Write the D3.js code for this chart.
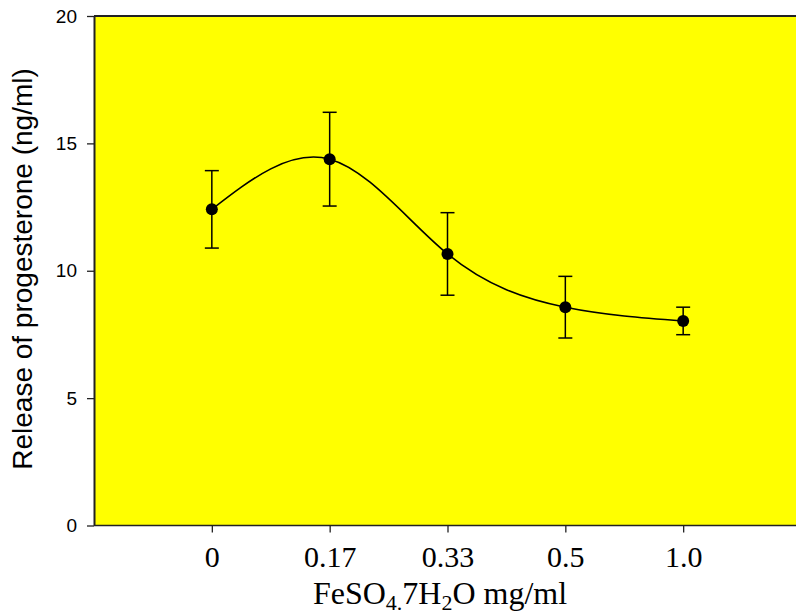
<!DOCTYPE html>
<html>
<head>
  <meta charset="utf-8" />
  <script src="https://d3js.org/d3.v7.min.js"></script>
  <style>
    body { margin: 0; padding: 0; background: #ffffff; }
    .y-tick text { font-family: Arial, "Liberation Sans", sans-serif; font-size: 19px; fill: #000; }
    .x-tick text { font-family: "Times New Roman", "Liberation Serif", serif; font-size: 30px; fill: #000; }
  </style>
</head>
<body>
  <svg id="chart" width="796" height="614"></svg>
  <script>
    // data
    const doses = ["0", "0.17", "0.33", "0.5", "1.0"];
    const means = [12.41, 14.38, 10.66, 8.57, 8.03];
    const errors = [1.52, 1.84, 1.62, 1.21, 0.54];
    const yTicks = [0, 5, 10, 15, 20];

    const svg = d3.select("#chart");
    const m = { left: 94, right: 801, top: 16, bottom: 525.5 };

    const x = d3.scaleLinear().domain([-1, 5]).range([m.left, m.right]);
    const y = d3.scaleLinear().domain([0, 20]).range([m.bottom, m.top]);

    // yellow plot area
    svg.append("rect")
      .attr("x", m.left).attr("y", m.top)
      .attr("width", 796 - m.left).attr("height", m.bottom - m.top)
      .attr("fill", "#ffff00");

    // top frame line
    svg.append("line")
      .attr("x1", m.left).attr("x2", 796)
      .attr("y1", m.top).attr("y2", m.top)
      .attr("stroke", "#222").attr("stroke-width", 2);

    // axes
    const yAxis = svg.append("g")
      .attr("class", "y-tick")
      .attr("transform", `translate(${m.left},0)`)
      .call(d3.axisLeft(y).tickValues(yTicks).tickSize(7).tickSizeOuter(0).tickPadding(10));
    yAxis.select(".domain").attr("stroke", "#222").attr("stroke-width", 2);
    yAxis.selectAll(".tick line").attr("stroke", "#222").attr("stroke-width", 1.3);

    const xAxis = svg.append("g")
      .attr("class", "x-tick")
      .attr("transform", `translate(0,${m.bottom})`)
      .call(d3.axisBottom(x).tickValues(d3.range(doses.length))
        .tickFormat(i => doses[i]).tickSize(7).tickSizeOuter(0).tickPadding(13));
    xAxis.select(".domain").attr("d", `M${m.left},0H796`).attr("stroke", "#222").attr("stroke-width", 1.5);
    xAxis.selectAll(".tick line").attr("stroke", "#222").attr("stroke-width", 1.3);

    // fitted curve
    const pts = means.map((v, i) => [x(i), y(v)]);
    svg.append("path")
      .attr("d", d3.line().curve(d3.curveNatural)(pts))
      .attr("fill", "none")
      .attr("stroke", "#000")
      .attr("stroke-width", 1.6);

    // error bars
    const eb = svg.append("g").attr("stroke", "#000").attr("stroke-width", 1.5);
    means.forEach((v, i) => {
      const cx = x(i);
      eb.append("line").attr("x1", cx).attr("x2", cx).attr("y1", y(v - errors[i])).attr("y2", y(v + errors[i]));
      eb.append("line").attr("x1", cx - 7).attr("x2", cx + 7).attr("y1", y(v + errors[i])).attr("y2", y(v + errors[i]));
      eb.append("line").attr("x1", cx - 7).attr("x2", cx + 7).attr("y1", y(v - errors[i])).attr("y2", y(v - errors[i]));
    });

    // points
    svg.append("g").selectAll("circle")
      .data(means)
      .enter()
      .append("circle")
      .attr("cx", (d, i) => x(i))
      .attr("cy", d => y(d))
      .attr("r", 6)
      .attr("fill", "#000");

    // axis titles
    svg.append("text")
      .attr("transform", "translate(32,269) rotate(-90)")
      .attr("text-anchor", "middle")
      .style("font-family", "Arial, 'Liberation Sans', sans-serif")
      .style("font-size", "28px")
      .text("Release of progesterone (ng/ml)");

    const xt = svg.append("text")
      .attr("x", 440).attr("y", 604)
      .attr("text-anchor", "middle")
      .style("font-family", "'Times New Roman', 'Liberation Serif', serif")
      .style("font-size", "32px");
    xt.append("tspan").text("FeSO");
    xt.append("tspan").attr("dy", 6).style("font-size", "22px").text("4.");
    xt.append("tspan").attr("dy", -6).text("7H");
    xt.append("tspan").attr("dy", 6).style("font-size", "22px").text("2");
    xt.append("tspan").attr("dy", -6).text("O mg/ml");
  </script>
</body>
</html>
